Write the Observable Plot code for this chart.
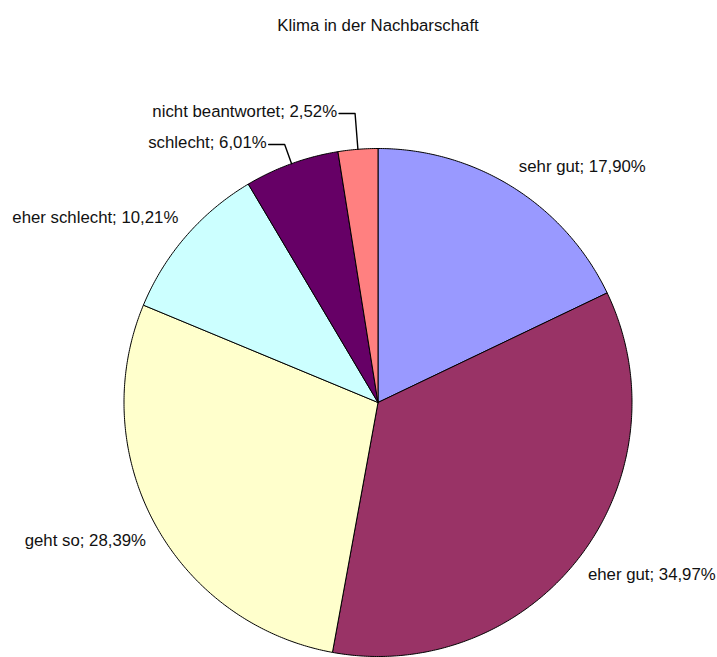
<!DOCTYPE html>
<html><head><meta charset="utf-8">
<script src="https://cdn.jsdelivr.net/npm/d3@7"></script>
<script src="https://cdn.jsdelivr.net/npm/@observablehq/plot@0.6"></script>
<style>body{margin:0;background:#fff}</style>
</head><body><div id="chart"></div>
<script>
const title = "Klima in der Nachbarschaft";
const categories = ["sehr gut","eher gut","geht so","eher schlecht","schlecht","nicht beantwortet"];
const shares = [17.90,34.97,28.39,10.21,6.01,2.52];
const sliceColors = ["#9999FF","#993366","#FFFFCC","#CCFFFF","#660066","#FF8080"];

const W = 717, H = 657, CX = 377.5, CY = 402, R = 254;
const FONT = 16.8;
const u = p => p / R; // pixels -> unit radius

const arcs = d3.pie().sort(null).value(d => d)(shares);

// slice polygons (unit circle, y up, angle 0 at 12 o'clock clockwise)
const slicePts = [];
arcs.forEach((a, i) => {
  const n = Math.max(2, Math.ceil((a.endAngle - a.startAngle) / (Math.PI / 360)));
  slicePts.push({cat: categories[i], color: sliceColors[i], x: 0, y: 0});
  for (let k = 0; k <= n; k++) {
    const t = a.startAngle + (a.endAngle - a.startAngle) * k / n;
    slicePts.push({cat: categories[i], color: sliceColors[i], x: Math.sin(t), y: Math.cos(t)});
  }
  slicePts.push({cat: categories[i], color: sliceColors[i], x: 0, y: 0});
});

const fmt = v => v.toFixed(2).replace(".", ",") + "%";
const labels = [];
const leaders = [];
let prevLeaderY = null;
arcs.forEach((a, i) => {
  const m = (a.startAngle + a.endAngle) / 2;
  const s = Math.sin(m), c = Math.cos(m);
  const text = categories[i] + "; " + fmt(shares[i]);
  if (shares[i] >= 7) {
    labels.push({text, side: s >= 0 ? "start" : "end",
      x: 1.04 * s, y: 1.04 * c + (c > 0 ? u(12) : -u(12))});
  } else {
    let ey = 1.08 * c;
    if (prevLeaderY !== null) ey = Math.max(ey, prevLeaderY + u(31));
    prevLeaderY = ey;
    const ex = s * ey / c;
    const dir = s >= 0 ? 1 : -1;
    leaders.push({id: i, x: s, y: c}, {id: i, x: ex, y: ey}, {id: i, x: ex + dir * u(16), y: ey});
    labels.push({text, side: dir > 0 ? "start" : "end", x: ex + dir * u(18), y: ey + u(1.5)});
  }
});

const chart = Plot.plot({
  width: W, height: H, margin: 0,
  x: {domain: [-CX / R, (W - CX) / R], range: [0, W], axis: null},
  y: {domain: [-(H - CY) / R, CY / R], range: [H, 0], axis: null},
  color: {type: "identity"},
  style: {fontFamily: "Arial, 'Liberation Sans', sans-serif", background: "#fff"},
  marks: [
    Plot.line(slicePts, {x: "x", y: "y", z: "cat", fill: "color", stroke: "#000", strokeWidth: 1, curve: "linear", strokeLinejoin: "miter"}),
    Plot.line(leaders, {x: "x", y: "y", z: "id", stroke: "#000", strokeWidth: 1.4, curve: "linear"}),
    Plot.text(labels.filter(d => d.side === "start"), {x: "x", y: "y", text: "text", textAnchor: "start", fontSize: FONT, fill: "#111"}),
    Plot.text(labels.filter(d => d.side === "end"), {x: "x", y: "y", text: "text", textAnchor: "end", fontSize: FONT, fill: "#111"}),
    Plot.text([title], {x: () => 0, text: d => d, frameAnchor: "top", dy: 19, fontSize: FONT, fill: "#111"})
  ]
});
document.getElementById("chart").appendChild(chart);
</script>
</body></html>
